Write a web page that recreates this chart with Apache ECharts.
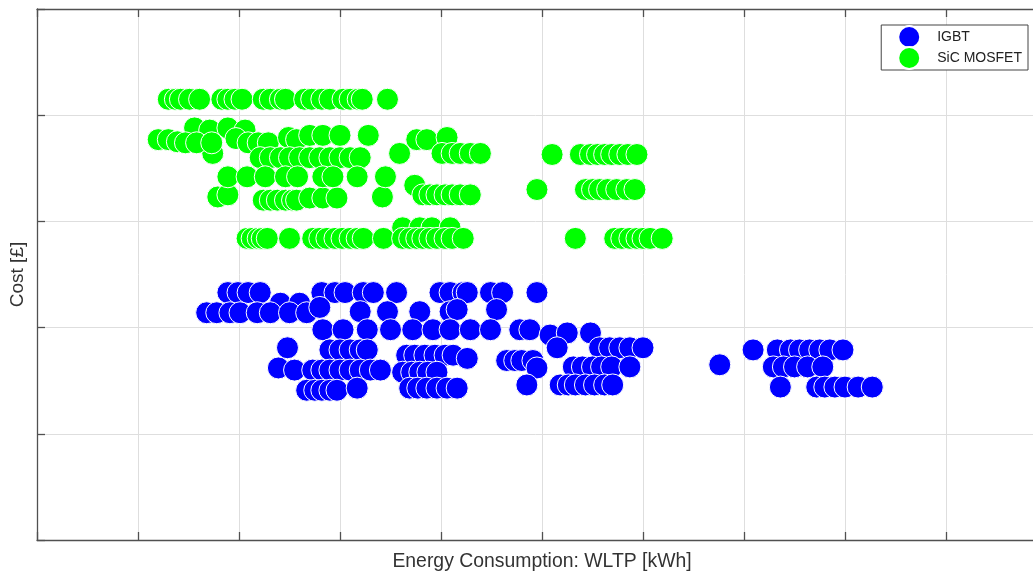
<!DOCTYPE html>
<html>
<head>
<meta charset="utf-8">
<script src="https://cdn.jsdelivr.net/npm/echarts@6/dist/echarts.min.js"></script>
<style>html,body{margin:0;padding:0;background:#fff}#chart{width:1033px;height:574px}</style>
</head>
<body>
<div id="chart"></div>
<script>
// Axis ranges (no tick labels are shown in the reference; the right side of the box is cut off)
const xRange = [0, 10];
const yRange = [0, 5];
const tickStep = 1;
const seriesNames = ['IGBT', 'SiC MOSFET'];

// IGBT: [energy, cost]
const igbt = [
  [1.89,2.33],[1.99,2.33],[2.09,2.33],[2.21,2.33],[2.82,2.33],[2.95,2.33],[3.05,2.33],[3.23,2.33],[3.33,2.33],[3.56,2.33],
  [3.99,2.33],[4.09,2.33],[4.22,2.33],[4.26,2.33],[4.49,2.33],[4.61,2.33],[4.95,2.33],
  [2.41,2.23],[2.60,2.23],
  [1.68,2.14],[1.78,2.14],[1.91,2.14],[2.01,2.14],[2.18,2.14],[2.31,2.14],[2.50,2.14],[2.67,2.14],[2.80,2.19],
  [3.20,2.15],[3.47,2.15],[3.79,2.15],[4.09,2.15],[4.16,2.17],[4.55,2.17],
  [2.83,1.98],[3.03,1.98],[3.27,1.98],[3.50,1.98],[3.72,1.98],[3.92,1.98],[4.09,1.98],[4.29,1.98],[4.49,1.98],[4.78,1.98],[4.88,1.98],
  [5.08,1.93],[5.25,1.95],[5.48,1.95],
  [2.48,1.81],[2.90,1.79],[3.00,1.79],[3.10,1.79],[3.20,1.79],[3.27,1.79],
  [3.66,1.74],[3.74,1.74],[3.84,1.74],[3.94,1.74],[4.04,1.74],[4.12,1.74],[4.26,1.71],
  [4.65,1.69],[4.73,1.69],[4.80,1.69],[4.91,1.69],[5.15,1.81],
  [5.57,1.81],[5.67,1.81],[5.77,1.81],[5.87,1.81],[6.00,1.81],
  [2.39,1.62],[2.55,1.60],[2.73,1.60],[2.82,1.60],[2.90,1.60],[3.00,1.60],[3.10,1.60],[3.20,1.60],[3.30,1.60],[3.40,1.60],
  [3.62,1.58],[3.71,1.58],[3.79,1.58],[3.87,1.58],[3.96,1.58],[4.95,1.62],
  [5.31,1.63],[5.40,1.63],[5.50,1.63],[5.59,1.63],[5.69,1.63],[5.87,1.63],
  [2.67,1.41],[2.75,1.41],[2.82,1.41],[2.90,1.41],[2.97,1.41],[3.17,1.43],
  [3.69,1.43],[3.77,1.43],[3.86,1.43],[3.96,1.43],[4.06,1.43],[4.16,1.43],[4.85,1.46],
  [5.18,1.46],[5.26,1.46],[5.33,1.46],[5.43,1.46],[5.52,1.46],[5.62,1.46],[5.70,1.46],
  [6.76,1.65],[7.09,1.79],[7.33,1.79],[7.46,1.79],[7.55,1.79],[7.65,1.79],[7.75,1.79],[7.85,1.79],[7.98,1.79],
  [7.29,1.63],[7.39,1.63],[7.50,1.63],[7.63,1.63],[7.78,1.63],
  [7.36,1.44],[7.72,1.44],[7.80,1.44],[7.90,1.44],[8.00,1.44],[8.13,1.44],[8.27,1.44]
];

// SiC MOSFET: [energy, cost]
const sic = [
  [1.30,4.15],[1.37,4.15],[1.42,4.15],[1.51,4.15],[1.61,4.15],[1.83,4.15],[1.89,4.15],[1.96,4.15],[2.03,4.15],
  [2.24,4.15],[2.31,4.15],[2.41,4.15],[2.46,4.15],[2.65,4.15],[2.72,4.15],[2.82,4.15],[2.90,4.15],
  [3.03,4.15],[3.10,4.15],[3.18,4.15],[3.22,4.15],[3.47,4.15],
  [1.56,3.88],[1.71,3.86],[1.89,3.88],[2.06,3.86],
  [1.74,3.64],
  [1.20,3.77],[1.30,3.77],[1.39,3.75],[1.47,3.74],[1.58,3.74],[1.73,3.74],[1.97,3.78],[2.09,3.74],[2.19,3.74],[2.29,3.74],
  [2.49,3.79],[2.57,3.77],[2.70,3.81],[2.83,3.81],[3.00,3.81],[3.28,3.81],
  [2.21,3.60],[2.31,3.60],[2.41,3.60],[2.50,3.60],[2.60,3.60],[2.70,3.60],[2.80,3.60],[2.90,3.60],[3.00,3.60],[3.10,3.60],[3.20,3.60],
  [3.59,3.64],[3.76,3.77],[3.86,3.77],[4.06,3.79],[4.01,3.64],[4.11,3.64],[4.19,3.64],[4.29,3.64],[4.39,3.64],
  [5.10,3.63],[5.38,3.63],[5.48,3.63],[5.55,3.63],[5.62,3.63],[5.69,3.63],[5.77,3.63],[5.85,3.63],[5.94,3.63],
  [1.79,3.23],[1.89,3.25],[2.24,3.20],[2.31,3.20],[2.38,3.20],[2.46,3.20],[2.53,3.20],[2.57,3.20],
  [2.70,3.22],[2.83,3.22],[2.97,3.22],[3.42,3.23],
  [1.89,3.42],[2.08,3.42],[2.26,3.42],[2.46,3.42],[2.58,3.42],[2.83,3.42],[2.93,3.42],[3.17,3.42],[3.45,3.42],[3.74,3.34],
  [3.82,3.25],[3.89,3.25],[3.96,3.25],[4.04,3.25],[4.11,3.25],[4.19,3.25],[4.29,3.25],
  [4.95,3.30],[5.43,3.30],[5.50,3.30],[5.57,3.30],[5.65,3.30],[5.74,3.30],[5.84,3.30],[5.92,3.30],
  [3.62,2.94],[3.79,2.94],[3.91,2.94],[4.09,2.94],
  [2.08,2.84],[2.13,2.84],[2.19,2.84],[2.23,2.84],[2.28,2.84],[2.50,2.84],
  [2.73,2.84],[2.80,2.84],[2.87,2.84],[2.95,2.84],[3.02,2.84],[3.10,2.84],[3.17,2.84],[3.23,2.84],[3.43,2.84],
  [3.62,2.84],[3.69,2.84],[3.76,2.84],[3.82,2.84],[3.89,2.84],[3.96,2.84],[4.04,2.84],[4.11,2.84],[4.22,2.84],
  [5.33,2.84],[5.72,2.84],[5.79,2.84],[5.87,2.84],[5.94,2.84],[6.00,2.84],[6.07,2.84],[6.19,2.84]
];

const chart = echarts.init(document.getElementById('chart'), null, {renderer: 'canvas'});
const axisCol = '#505050';
const gridCol = '#dedede';
const font = 'Liberation Sans, Arial, sans-serif';
chart.setOption({
  animation: false,
  backgroundColor: '#fff',
  grid: {left: 37, top: 9, width: 1010, height: 531, containLabel: false, outerBoundsMode: 'none'},
  legend: {
    data: seriesNames,
    orient: 'vertical',
    right: 5, top: 25,
    icon: 'circle',
    itemWidth: 22, itemHeight: 22, itemGap: -3,
    padding: [0, 6, 0, 16],
    borderColor: '#444', borderWidth: 1, backgroundColor: '#fff',
    textStyle: {fontFamily: font, fontSize: 14, color: '#222', padding: [0, 0, 0, 12]}
  },
  xAxis: [{
    type: 'value', min: xRange[0], max: xRange[1], interval: tickStep,
    position: 'bottom',
    name: 'Energy Consumption: WLTP [kWh]', nameLocation: 'middle', nameGap: 12,
    nameTextStyle: {fontFamily: font, fontSize: 19.4, color: '#333'},
    axisLine: {show: true, lineStyle: {color: axisCol, width: 1.3}},
    axisTick: {show: true, inside: true, length: 8, lineStyle: {color: axisCol, width: 1.3}},
    axisLabel: {show: false},
    splitLine: {show: true, lineStyle: {color: gridCol, width: 1}}
  }, {
    type: 'value', min: xRange[0], max: xRange[1], interval: tickStep,
    position: 'top',
    axisLine: {show: true, onZero: false, lineStyle: {color: axisCol, width: 1.3}},
    axisTick: {show: true, inside: true, length: 8, lineStyle: {color: axisCol, width: 1.3}},
    axisLabel: {show: false},
    splitLine: {show: false}
  }],
  yAxis: [{
    type: 'value', min: yRange[0], max: yRange[1], interval: tickStep,
    name: 'Cost [£]', nameLocation: 'middle', nameGap: 10, nameRotate: 90,
    nameTextStyle: {fontFamily: font, fontSize: 19, color: '#333'},
    axisLine: {show: true, onZero: false, lineStyle: {color: axisCol, width: 1.3}},
    axisTick: {show: true, inside: true, length: 8, lineStyle: {color: axisCol, width: 1.3}},
    axisLabel: {show: false},
    splitLine: {show: true, lineStyle: {color: gridCol, width: 1}}
  }],
  series: [{
    name: seriesNames[0], type: 'scatter', xAxisIndex: 0, data: igbt,
    symbol: 'circle', symbolSize: 22,
    itemStyle: {color: '#0000ff', borderColor: '#ffffff', borderWidth: 1, opacity: 1}
  }, {
    name: seriesNames[1], type: 'scatter', xAxisIndex: 0, data: sic,
    symbol: 'circle', symbolSize: 22,
    itemStyle: {color: '#00ff00', borderColor: '#ffffff', borderWidth: 1, opacity: 1}
  }]
});
</script>
</body>
</html>
